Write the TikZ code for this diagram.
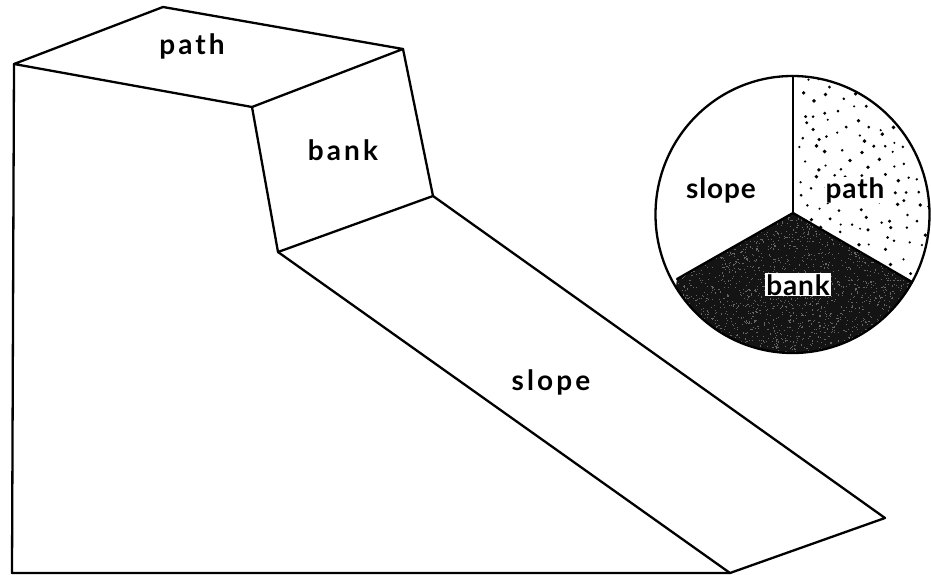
\documentclass[tikz,border=0pt]{standalone}
\usepackage{fontspec}
\setmainfont[LetterSpace=11]{Lato Bold}
\newfontfamily\tightlabel[LetterSpace=3]{Lato Bold}
\tikzset{
  edge/.style={line width=2.3pt,line cap=round,line join=round,black},
  lab/.style={font=\fontsize{28}{32}\selectfont,inner sep=0pt,text=black,anchor=base},
  piclab/.style={font=\tightlabel\fontsize{28}{32}\selectfont,inner sep=0pt,text=black,anchor=base},
}
\begin{document}
\begin{tikzpicture}[x=1pt,y=-1pt]
\useasboundingbox (0,0) rectangle (931,575);
\fill[white] (0,0) rectangle (931,575);
% block
\coordinate (a) at (14,64);
\coordinate (b) at (163,7);
\coordinate (c) at (403,49);
\coordinate (d) at (252,107);
\coordinate (e) at (278,252);
\coordinate (f) at (433,196);
\coordinate (g) at (885,518);
\coordinate (h) at (730,573);
\coordinate (i) at (12,573);
\draw[edge] (a) -- (b) -- (c) -- (d) -- cycle;
\draw[edge] (d) -- (e) -- (f) -- (c);
\draw[edge] (e) -- (h) -- (g) -- (f);
\draw[edge] (a) -- (i) -- (h);
\node[lab] (lpath) at (192,55) {path};
\node[lab] (lbank) at (343,160) {bank};
\node[lab] (lslope) at (551,390) {slope};
% pie
\coordinate (o) at (793,213);
\coordinate (t) at (793,76);
\coordinate (l) at (677,279);
\coordinate (r) at (912,282);
\begin{scope}
  \clip (792.5,214.5) ellipse (137 and 138.5);
  \fill[black!92] (o) -- (l) -- (660,400) -- (930,400) -- (r) -- cycle;
  \begin{scope}
    \clip (o) -- (l) -- (660,400) -- (930,400) -- (r) -- cycle;
    \pgfmathsetseed{41}
    \foreach \k in {1,...,2200}{
      \pgfmathsetmacro{\px}{670+250*rnd}
      \pgfmathsetmacro{\py}{215+140*rnd}
      \fill[black!60] (\px,\py) rectangle ++(1.1,1.1);
    }
  \end{scope}
  \begin{scope}
    \clip (o) -- (t) -- (940,60) -- (940,320) -- (r) -- cycle;
    \pgfmathsetseed{7}
    \foreach \gx in {0,...,10}{
      \foreach \gy in {0,...,15}{
        \pgfmathsetmacro{\px}{798+13*\gx+12*rnd}
        \pgfmathsetmacro{\py}{78+13.5*\gy+12*rnd}
        \pgfmathsetmacro{\pr}{1.1+0.9*rnd}
        \fill[black] (\px,\py) circle (\pr);
      }
    }
  \end{scope}
\end{scope}
\draw[edge] (792.5,214.5) ellipse (137 and 138.5);
\draw[edge] (o) -- (t);
\draw[edge] (o) -- (l);
\draw[edge] (o) -- (r);
\node[piclab] (pslope) at (721,198) {slope};
\node[piclab,fill=white,inner sep=0.5pt] (ppath) at (855,198) {path};
\node[piclab,fill=white,inner sep=1pt] (pbank) at (798,295) {bank};
\end{tikzpicture}
\end{document}
